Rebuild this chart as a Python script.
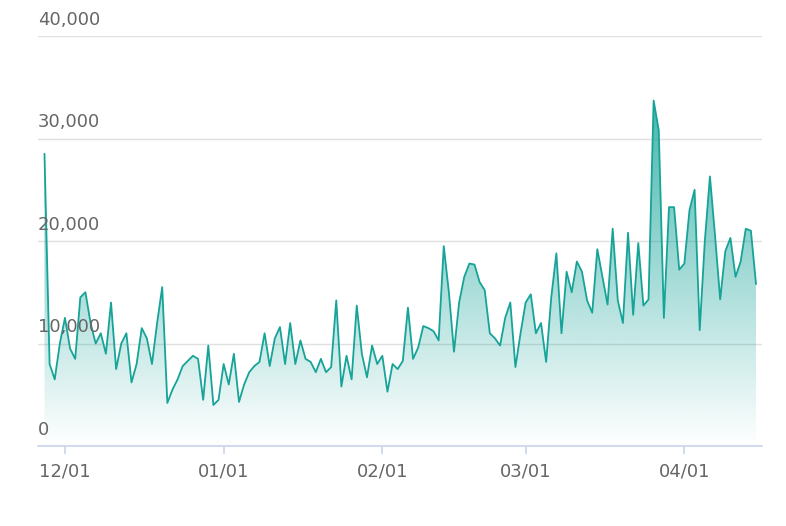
import numpy as np, pandas as pd, matplotlib
matplotlib.use("Agg")
import matplotlib.pyplot as plt, seaborn as sns
import matplotlib.dates as mdates
from matplotlib.colors import LinearSegmentedColormap

values = [28500,8000,6500,10000,12500,9500,8500,14500,15000,12000,10000,11000,9000,14000,7500,10000,11000,6200,8000,11500,
10500,8000,12000,15500,4200,5500,6500,7800,8300,8800,8500,4500,9800,4000,4500,8000,6000,9000,4300,6000,
7200,7800,8200,11000,7800,10500,11600,8000,12000,8000,10300,8500,8200,7200,8500,7200,7700,14200,5800,8800,
6500,13700,9000,6700,9800,8000,8800,5300,8000,7500,8300,13500,8500,9600,11700,11500,11200,10300,19500,15000,
9200,14000,16500,17800,17700,16000,15200,11000,10500,9800,12500,14000,7700,11000,14000,14800,11000,12000,8200,14500,
18800,11000,17000,15000,18000,17000,14200,13000,19200,16500,13800,21200,14200,12000,20800,12800,19800,13700,14300,33700,
30800,12500,23300,23300,17200,17800,23000,25000,11300,20000,26300,20500,14300,19000,20300,16500,18000,21200,21000,15800]
start = "2022-11-27"
dates = pd.date_range(start, periods=len(values))
yticks = [0, 10000, 20000, 30000, 40000]
df = pd.DataFrame({"date": dates, "value": values})

sns.set_theme(style="white")
fig = plt.figure(figsize=(7.86, 5.26), dpi=100)
ax = fig.add_axes([38/786, 80/526, (762-38)/786, (446-36)/526])
col = "#16a398"
sns.lineplot(data=df, x="date", y="value", ax=ax, color=col, lw=1.3)
x = mdates.date2num(dates)
xmin = x[0] - 6.5/5.13; xmax = x[-1] + 6/5.13
cmap = LinearSegmentedColormap.from_list("g", [(0.09,0.64,0.6,0.0), (0.09,0.64,0.6,0.8)])
grad = np.linspace(0, 1, 256).reshape(-1, 1)
im = ax.imshow(grad, extent=[xmin, xmax, 0, 34000], origin="lower", aspect="auto", cmap=cmap, zorder=1)
poly = ax.fill_between(x, values, 0, color="none")
im.set_clip_path(poly.get_paths()[0], transform=ax.transData)
ax.set_xlim(xmin, xmax); ax.set_ylim(0, 40000)
for t in yticks:
    ax.axhline(t, color="#e0e0e0", lw=1, zorder=0)
    ax.text(0, t + 700, f"{t:,}", transform=ax.get_yaxis_transform(), ha="left", va="bottom",
            fontsize=13, color="#666666")
ax.set_yticks([]); ax.set_xlabel(""); ax.set_ylabel("")
ticks = pd.to_datetime(["2022-12-01", "2023-01-01", "2023-02-01", "2023-03-01", "2023-04-01"])
ax.set_xticks(mdates.date2num(ticks))
ax.set_xticklabels([d.strftime("%m/%d") for d in ticks], fontsize=13, color="#666666")
ax.tick_params(axis="x", length=6, color="#ccd6eb", bottom=True, pad=6)
for s in ["top", "right", "left"]:
    ax.spines[s].set_visible(False)
ax.spines["bottom"].set_color("#ccd6eb")
fig.savefig("out.png", dpi=100)
